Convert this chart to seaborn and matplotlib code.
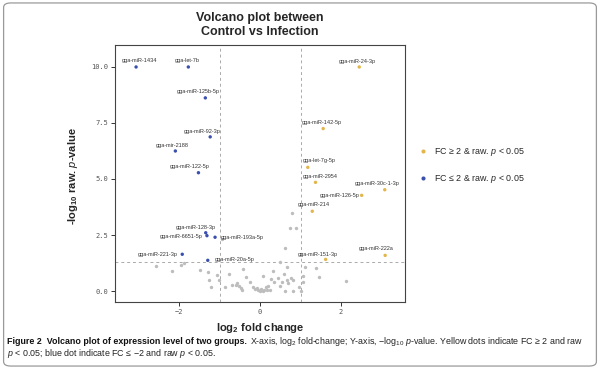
import matplotlib
matplotlib.use("Agg")
import matplotlib.pyplot as plt
import seaborn as sns
import pandas as pd
from matplotlib.patches import FancyBboxPatch

# significant miRNAs
up_names = ["gga-miR-24-3p", "gga-miR-142-5p", "gga-let-7g-5p", "gga-miR-2954",
            "gga-miR-214", "gga-miR-126-5p", "gga-miR-30c-1-3p", "gga-miR-222a",
            "gga-miR-151-3p"]
up_fc = [2.45, 1.56, 1.18, 1.37, 1.29, 2.51, 3.08, 3.09, 1.62]
up_p = [10.0, 7.25, 5.52, 4.85, 3.56, 4.27, 4.52, 1.59, 1.41]

down_names = ["gga-miR-1434", "gga-let-7b", "gga-miR-125b-5p", "gga-miR-92-3p",
              "gga-mir-2188", "gga-miR-122-5p", "gga-miR-128-3p", "gga-miR-6651-5p",
              "gga-miR-193a-5p", "gga-miR-221-3p", "gga-miR-20a-5p"]
down_fc = [-3.06, -1.77, -1.35, -1.23, -2.09, -1.52, -1.34, -1.31, -1.11, -1.92, -1.29]
down_p = [10.0, 10.0, 8.62, 6.88, 6.25, 5.28, 2.60, 2.47, 2.40, 1.64, 1.37]

# non-significant miRNAs
ns_fc = [-2.58, -2.17, -1.96, -1.88, -1.49, -1.28, -1.25, -1.21, -1.05, -1.02, -0.95,
         -0.87, -0.76, -0.69, -0.59, -0.56, -0.53, -0.48, -0.41, -0.44, -0.35, -0.25,
         -0.13, -0.08, -0.04, 0.00, 0.03, 0.07, 0.10, 0.14, 0.18, 0.20, -0.18, 0.08,
         0.26, 0.31, 0.35, 0.25, 0.49, 0.54, 0.49, 0.62, 0.66, 0.66, 0.69, 0.62, 0.74,
         0.80, 0.89, 0.76, 0.82, 0.82, 0.97, 1.00, 1.05, 1.07, 1.11, 1.38, 1.45, 2.12,
         0.45, 0.58]
ns_p = [1.12, 0.88, 1.15, 1.26, 0.94, 0.85, 0.49, 0.19, 0.73, 0.49, 2.33,
        0.19, 0.76, 0.25, 0.28, 0.34, 0.22, 0.12, 1.00, 0.04, 0.61, 0.40,
        0.08, 0.14, 0.04, 0.02, 0.10, 0.00, 0.06, 0.16, 0.05, 0.24, 0.18, 0.67,
        0.52, 0.91, 0.40, 0.04, 1.29, 0.40, 0.22, 1.93, 1.09, 0.49, 0.34, 0.01, 2.80,
        3.50, 2.80, 0.60, 0.49, 0.01, 0.17, 0.00, 0.40, 0.67, 1.09, 1.03, 0.61, 0.43,
        0.60, 0.76]

up_label = "FC ≥ 2 & raw. $\\mathit{p}$ < 0.05"
down_label = "FC ≤ 2 & raw. $\\mathit{p}$ < 0.05"

# label offsets in pixels (dx, dy) relative to each point
up_offsets = [(-2, 5), (-1, 6), (11, 7), (5, 6), (2, 7), (-22, 0), (-8, 6), (-9, 7), (-8, 5)]
down_offsets = [(3, 6), (-1, 6), (-7, 6), (-8, 5), (-3, 5), (-9, 6), (-10, 5), (-26, -1),
                (27, 0), (-24, 0), (27, 1)]

sig = pd.DataFrame({
    "fc": up_fc + down_fc,
    "p": up_p + down_p,
    "group": [up_label] * len(up_fc) + [down_label] * len(down_fc),
})
ns = pd.DataFrame({"fc": ns_fc, "p": ns_p})

sns.set_style("white")
plt.rcParams["font.family"] = ["Liberation Sans", "DejaVu Sans"]
plt.rcParams["mathtext.default"] = "regular"
plt.rcParams["mathtext.fontset"] = "custom"
plt.rcParams["mathtext.it"] = "Liberation Sans:italic"

yellow = "#E3B64C"
blue = "#3B4FAE"

fig = plt.figure(figsize=(6, 3.69), dpi=100)
ax = fig.add_axes([0.1917, 0.1816, 0.4833, 0.6964])

ax.axvline(-1, color="#AAAAAA", ls=(0, (3, 3)), lw=0.7, zorder=0)
ax.axvline(1, color="#AAAAAA", ls=(0, (3, 3)), lw=0.7, zorder=0)
ax.axhline(1.30, color="#AAAAAA", ls=(0, (3, 3)), lw=0.7, zorder=0)

sns.scatterplot(data=ns, x="fc", y="p", color="#BDBDBD", s=6, linewidth=0, ax=ax)
sns.scatterplot(data=sig, x="fc", y="p", hue="group", hue_order=[up_label, down_label],
                palette=[yellow, blue], s=6, linewidth=0, ax=ax)

for name, x, y, off in zip(up_names + down_names, up_fc + down_fc, up_p + down_p,
                           up_offsets + down_offsets):
    ax.annotate(name, (x, y), xytext=off, textcoords="offset pixels",
                ha="center", va="center", fontsize=4, color="#333333")

ax.set_xlim(-3.58, 3.58)
ax.set_ylim(-0.49, 10.98)
ax.set_xticks([-2, 0, 2])
ax.set_yticks([0, 2.5, 5, 7.5, 10])
ax.set_yticklabels(["0.0", "2.5", "5.0", "7.5", "10.0"])
for lab in ax.get_xticklabels() + ax.get_yticklabels():
    lab.set_fontfamily("DejaVu Sans Mono")
    lab.set_fontsize(5)
    lab.set_color("#555555")
ax.tick_params(axis="both", length=3, width=0.7, color="#333333", pad=2,
               bottom=True, left=True)
for sp in ax.spines.values():
    sp.set_color("#444444")
    sp.set_linewidth(0.8)

ax.set_title("Volcano plot between\nControl vs Infection", fontsize=9,
             fontweight="bold", pad=7)
ax.set_xlabel("log$_2$ fold change", fontsize=8, fontweight="bold")
ax.set_ylabel("-log$_{10}$ raw. $\\mathit{p}$-value", fontsize=8, fontweight="bold")
ax.xaxis.set_label_coords(0.5, -0.075)
ax.yaxis.set_label_coords(-0.12, 0.49)

sns.move_legend(ax, loc="center left", bbox_to_anchor=(1.03, 0.531), frameon=False,
                title=None, fontsize=6.4, borderpad=0, borderaxespad=0,
                handletextpad=0.3, labelspacing=1.6, markerscale=1.2)

# caption
cap_font = ["Liberation Sans Narrow", "Liberation Sans", "DejaVu Sans"]
r = fig.canvas.get_renderer()
bold = fig.text(0.012, 1 - 341 / 369, "Figure 2  Volcano plot of expression level of two groups.",
                fontsize=6.4, fontweight="bold", family=cap_font, va="center", color="#111111")
bb = bold.get_window_extent(renderer=r)
fig.text((bb.x1 + 3) / 600, 1 - 341 / 369,
         "X-axis, log$_2$ fold-change; Y-axis, \u2212log$_{10}$ $\\mathit{p}$-value. "
         "Yellow dots indicate FC ≥ 2 and raw",
         fontsize=6.4, family=cap_font, va="center", color="#222222")
fig.text(0.012, 1 - 353 / 369,
         "$\\mathit{p}$ < 0.05; blue dot indicate FC ≤ \u22122 and raw $\\mathit{p}$ < 0.05.",
         fontsize=6.4, family=cap_font, va="center", color="#222222")

fig.patches.append(FancyBboxPatch((0.006, 0.008), 0.988, 0.984,
                                  boxstyle="round,pad=0,rounding_size=0.012",
                                  transform=fig.transFigure, fill=False,
                                  ec="#9A9A9A", lw=0.9))

fig.savefig("out.png", dpi=100)
